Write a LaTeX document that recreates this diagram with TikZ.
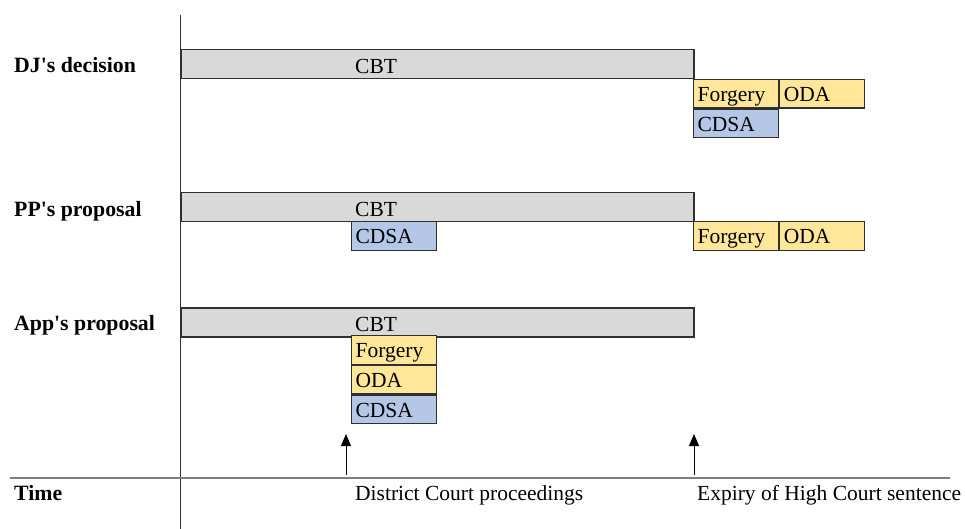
\documentclass[tikz,border=0pt]{standalone}
\usepackage{fontspec}
\setmainfont{Liberation Serif}
\usetikzlibrary{arrows.meta}
\definecolor{cbtgray}{HTML}{D9D9D9}
\definecolor{offyellow}{HTML}{FFE699}
\definecolor{offblue}{HTML}{B4C7E7}
\definecolor{edgegray}{HTML}{303030}
\definecolor{axisgray}{HTML}{808080}
\begin{document}
\begin{tikzpicture}[
    x=1pt, y=-1pt,
    font=\fontsize{21.5}{25}\selectfont,
    % Global styles
    cbtbar/.style={draw=edgegray, line width=1.5pt, fill=cbtgray, anchor=north west,
        minimum width=513pt, minimum height=29pt, inner sep=0pt},
    offence/.style={draw=edgegray, line width=1.2pt, anchor=north west, inner xsep=4pt,
        inner ysep=0.5pt, text width=77pt, align=left, text height=21.5pt, text depth=6pt},
    forgery/.style={offence, fill=offyellow},
    oda/.style={offence, fill=offyellow},
    cdsa/.style={offence, fill=offblue},
    rowlabel/.style={anchor=base west, inner sep=0pt, font=\fontsize{21.8}{26}\selectfont\bfseries},
    barlabel/.style={anchor=base west, inner xsep=4pt, inner ysep=0pt},
    axis/.style={line width=1.5pt, draw=axisgray},
    pointer/.style={line width=1pt, -{Triangle[length=12pt, width=10pt]}}
    ]
    \useasboundingbox (0,0) rectangle (965,529);

    % ===========================
    % AXES
    % ===========================
    \coordinate (vtop) at (180, 15);
    \coordinate (vbot) at (180, 529);
    \coordinate (hleft) at (10, 478);
    \coordinate (hright) at (950, 478);
    \draw[line width=1pt, draw=edgegray] (vtop) -- (vbot);
    \draw[axis] (hleft) -- (hright);

    % ===========================
    % DJ'S DECISION
    % ===========================
    \node[rowlabel] (djlabel) at (14, 73) {DJ\textquotesingle s decision};
    \node[cbtbar] (djcbt) at (180, 49) {};
    \node[barlabel] at (351, 73.5) {CBT};
    \node[forgery] (djforgery) at (693, 79) {Forgery};
    \node[oda] (djoda) at (djforgery.north east) {ODA};
    \node[cdsa] (djcdsa) at (djforgery.south west) {CDSA};

    % ===========================
    % PP'S PROPOSAL
    % ===========================
    \node[rowlabel] (pplabel) at (14, 216) {PP\textquotesingle s proposal};
    \node[cbtbar] (ppcbt) at (180, 192) {};
    \node[barlabel] at (351, 216.5) {CBT};
    \node[cdsa] (ppcdsa) at (351, 221) {CDSA};
    \node[forgery] (ppforgery) at (693, 221) {Forgery};
    \node[oda] (ppoda) at (ppforgery.north east) {ODA};

    % ===========================
    % APP'S PROPOSAL
    % ===========================
    \node[rowlabel] (applabel) at (14, 330) {App\textquotesingle s proposal};
    \node[cbtbar] (appcbt) at (180, 307) {};
    \node[barlabel] at (351, 331) {CBT};
    \node[forgery] (appforgery) at (351, 335) {Forgery};
    \node[oda] (appoda) at (appforgery.south west) {ODA};
    \node[cdsa] (appcdsa) at (appoda.south west) {CDSA};

    % ===========================
    % TIME LINE
    % ===========================
    \node[rowlabel] (timelabel) at (14, 500) {Time};
    \node[barlabel] (dclabel) at (351, 500) {District Court proceedings};
    \node[barlabel] (hclabel) at (693, 500) {Expiry of High Court sentence};

    % Pointers
    \coordinate (dcbase) at (346, 475);
    \coordinate (dctip) at (346, 434);
    \coordinate (hcbase) at (694, 475);
    \coordinate (hctip) at (694, 434);
    \draw[pointer] (dcbase) -- (dctip);
    \draw[pointer] (hcbase) -- (hctip);

\end{tikzpicture}
\end{document}
